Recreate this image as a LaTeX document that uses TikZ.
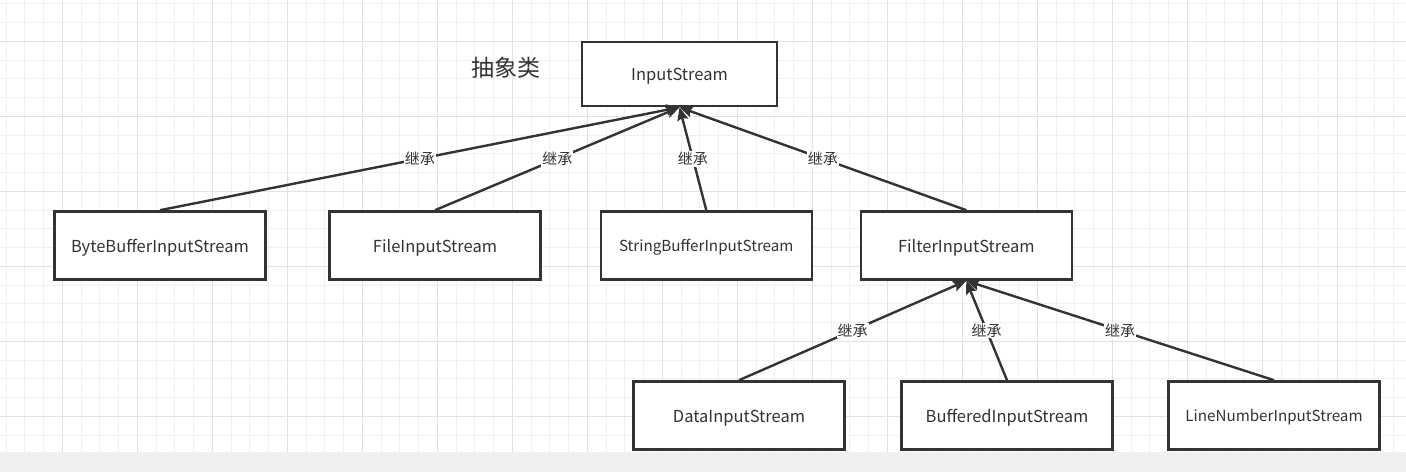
\documentclass[tikz,border=0pt]{standalone}
\usepackage{fontspec}
\setmainfont{Noto Sans CJK SC}
\usetikzlibrary{arrows.meta}
\definecolor{ink}{HTML}{333333}
\definecolor{gridminor}{HTML}{F0F0F0}
\definecolor{gridmajor}{HTML}{E2E2E2}
\definecolor{band}{HTML}{F0F0F0}
\tikzset{
  cls/.style={draw=ink, line width=2.6pt, fill=white, rectangle, minimum width=211pt, minimum height=68pt, inner sep=0pt, text=ink, font=\fontsize{16.5}{18}\selectfont, text height=13pt, text depth=0pt},
  smallcls/.style={cls, font=\fontsize{15.2}{16}\selectfont, text height=12pt},
  inh/.style={draw=ink, line width=2.4pt, -{Stealth[length=13pt,width=11pt,inset=2pt]}},
  lbl/.style={fill=white, inner sep=1pt, text=ink, font=\fontsize{15}{16}\selectfont}
}
\begin{document}
\begin{tikzpicture}[x=1pt,y=-1pt]
\useasboundingbox (0,0) rectangle (1406,472);
\fill[white] (0,0) rectangle (1406,472);
% grid
\foreach \i in {0,...,75} {
  \draw[gridminor, line width=1pt] ({6+18.75*\i},0) -- ({6+18.75*\i},452);
}
\foreach \j in {0,...,24} {
  \draw[gridminor, line width=1pt] (0,{3.8+18.75*\j}) -- (1406,{3.8+18.75*\j});
}
\foreach \i in {0,...,18} {
  \draw[gridmajor, line width=1pt] ({62.25+75*\i},0) -- ({62.25+75*\i},452);
}
\foreach \j in {0,...,5} {
  \draw[gridmajor, line width=1pt] (0,{41.3+75*\j}) -- (1406,{41.3+75*\j});
}
\fill[band] (0,452) rectangle (1406,472);

% nodes
\node[cls, minimum width=195pt, minimum height=64pt] (in) at (679.5,74) {InputStream};
\node[text=ink, font=\fontsize{23}{26}\selectfont] (abs) at (506,68) {抽象类};
\node[cls] (bb) at (160,245.5) {ByteBufferInputStream};
\node[cls] (fi) at (435,245.5) {FileInputStream};
\node[smallcls] (sb) at (706.3,245.5) {StringBufferInputStream};
\node[cls] (fl) at (966.3,245.5) {FilterInputStream};
\node[cls] (da) at (739,415.5) {DataInputStream};
\node[cls] (bu) at (1007,415.5) {BufferedInputStream};
\node[smallcls] (ln) at (1274,415.5) {LineNumberInputStream};

% edges
\draw[inh] (bb.north) -- node[lbl] {继承} (in.south);
\draw[inh] (fi.north) -- node[lbl] {继承} (in.south);
\draw[inh] (sb.north) -- node[lbl] {继承} (in.south);
\draw[inh] (fl.north) -- node[lbl] {继承} (in.south);
\draw[inh] (da.north) -- node[lbl] {继承} (fl.south);
\draw[inh] (bu.north) -- node[lbl] {继承} (fl.south);
\draw[inh] (ln.north) -- node[lbl] {继承} (fl.south);
\end{tikzpicture}
\end{document}
